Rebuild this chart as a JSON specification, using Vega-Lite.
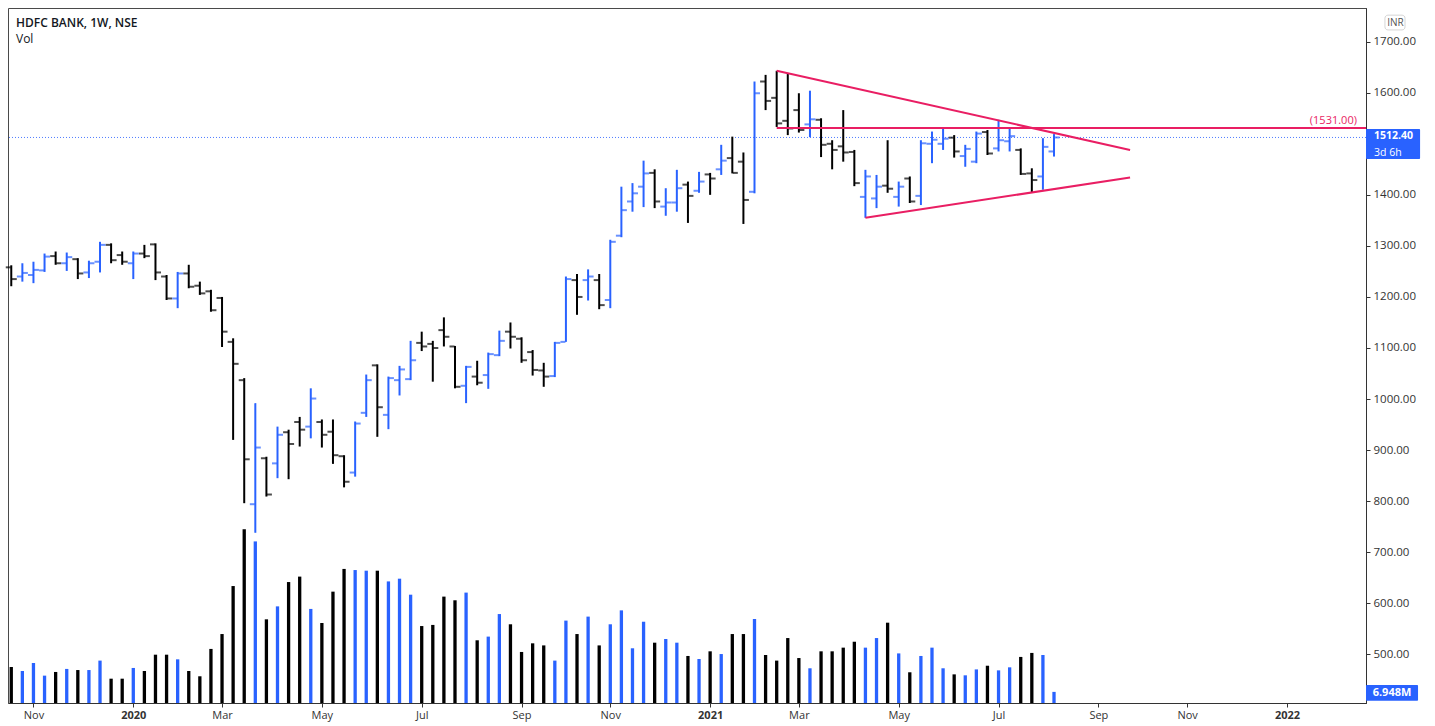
{
  "$schema": "https://vega.github.io/schema/vega-lite/v6.json",
  "width": 1358,
  "height": 695,
  "autosize": {"type": "none"},
  "padding": {"left": 8, "top": 8, "right": 69, "bottom": 23},
  "background": "white",
  "config": {"view": {"stroke": "#4a4a4a", "strokeWidth": 1}, "font": "Open Sans"},
  "title": {"text": "HDFC BANK, 1W, NSE", "subtitle": "Vol", "anchor": "start", "frame": "group", "orient": "top", "offset": -38, "dx": 8, "fontSize": 12, "fontWeight": 600, "font": "Open Sans", "color": "#131722", "subtitleFontSize": 12, "subtitleColor": "#131722", "subtitleFont": "Open Sans", "subtitlePadding": 4},
  "datasets": {
    "bars": [
      {"date": "2019-10-21", "open": 1258, "high": 1262, "low": 1221, "close": 1235, "vol": 22.5},
      {"date": "2019-10-28", "open": 1240, "high": 1266, "low": 1230, "close": 1247, "vol": 20},
      {"date": "2019-11-04", "open": 1243, "high": 1269, "low": 1227, "close": 1253, "vol": 25},
      {"date": "2019-11-11", "open": 1252, "high": 1285, "low": 1249, "close": 1279, "vol": 17.1},
      {"date": "2019-11-18", "open": 1280, "high": 1289, "low": 1263, "close": 1266, "vol": 19.4},
      {"date": "2019-11-25", "open": 1266, "high": 1287, "low": 1251, "close": 1278, "vol": 21.3},
      {"date": "2019-12-02", "open": 1274, "high": 1276, "low": 1235, "close": 1246, "vol": 20.6},
      {"date": "2019-12-09", "open": 1248, "high": 1271, "low": 1237, "close": 1266, "vol": 20.6},
      {"date": "2019-12-16", "open": 1269, "high": 1308, "low": 1248, "close": 1302, "vol": 26.5},
      {"date": "2019-12-23", "open": 1302, "high": 1305, "low": 1266, "close": 1272, "vol": 15.2},
      {"date": "2019-12-30", "open": 1282, "high": 1289, "low": 1263, "close": 1269, "vol": 15.2},
      {"date": "2020-01-06", "open": 1266, "high": 1289, "low": 1235, "close": 1285, "vol": 21.9},
      {"date": "2020-01-13", "open": 1285, "high": 1302, "low": 1276, "close": 1280, "vol": 20},
      {"date": "2020-01-20", "open": 1303, "high": 1305, "low": 1233, "close": 1248, "vol": 30.2},
      {"date": "2020-01-27", "open": 1240, "high": 1243, "low": 1194, "close": 1197, "vol": 30.2},
      {"date": "2020-02-03", "open": 1197, "high": 1249, "low": 1178, "close": 1246, "vol": 27.3},
      {"date": "2020-02-10", "open": 1246, "high": 1263, "low": 1217, "close": 1220, "vol": 20},
      {"date": "2020-02-17", "open": 1222, "high": 1230, "low": 1204, "close": 1207, "vol": 16.7},
      {"date": "2020-02-24", "open": 1211, "high": 1214, "low": 1171, "close": 1174, "vol": 33.8},
      {"date": "2020-03-02", "open": 1198, "high": 1200, "low": 1102, "close": 1132, "vol": 43.1},
      {"date": "2020-03-09", "open": 1112, "high": 1119, "low": 920, "close": 1069, "vol": 73.1},
      {"date": "2020-03-16", "open": 1037, "high": 1041, "low": 796, "close": 882, "vol": 108.6},
      {"date": "2020-03-23", "open": 794, "high": 992, "low": 738, "close": 905, "vol": 101},
      {"date": "2020-03-30", "open": 884, "high": 887, "low": 809, "close": 813, "vol": 52.3},
      {"date": "2020-04-06", "open": 874, "high": 946, "low": 845, "close": 930, "vol": 60.4},
      {"date": "2020-04-13", "open": 935, "high": 940, "low": 843, "close": 912, "vol": 75.6},
      {"date": "2020-04-20", "open": 955, "high": 965, "low": 907, "close": 940, "vol": 79},
      {"date": "2020-04-27", "open": 946, "high": 1021, "low": 923, "close": 1001, "vol": 58.8},
      {"date": "2020-05-04", "open": 955, "high": 960, "low": 905, "close": 930, "vol": 50},
      {"date": "2020-05-11", "open": 936, "high": 960, "low": 873, "close": 890, "vol": 69.6},
      {"date": "2020-05-18", "open": 888, "high": 890, "low": 827, "close": 838, "vol": 83.8},
      {"date": "2020-05-25", "open": 856, "high": 956, "low": 848, "close": 952, "vol": 83.1},
      {"date": "2020-06-01", "open": 973, "high": 1048, "low": 965, "close": 1037, "vol": 82.7},
      {"date": "2020-06-08", "open": 1066, "high": 1068, "low": 926, "close": 984, "vol": 82.7},
      {"date": "2020-06-15", "open": 969, "high": 1044, "low": 941, "close": 1041, "vol": 76},
      {"date": "2020-06-22", "open": 1037, "high": 1065, "low": 1007, "close": 1058, "vol": 77.7},
      {"date": "2020-06-29", "open": 1039, "high": 1114, "low": 1037, "close": 1076, "vol": 67.7},
      {"date": "2020-07-06", "open": 1110, "high": 1132, "low": 1094, "close": 1103, "vol": 48.1},
      {"date": "2020-07-13", "open": 1108, "high": 1114, "low": 1034, "close": 1100, "vol": 48.8},
      {"date": "2020-07-20", "open": 1135, "high": 1160, "low": 1103, "close": 1122, "vol": 66.5},
      {"date": "2020-07-27", "open": 1103, "high": 1104, "low": 1021, "close": 1024, "vol": 64.2},
      {"date": "2020-08-03", "open": 1026, "high": 1065, "low": 992, "close": 1063, "vol": 69},
      {"date": "2020-08-10", "open": 1044, "high": 1075, "low": 1027, "close": 1032, "vol": 39.2},
      {"date": "2020-08-17", "open": 1047, "high": 1091, "low": 1020, "close": 1088, "vol": 41.5},
      {"date": "2020-08-24", "open": 1086, "high": 1134, "low": 1084, "close": 1114, "vol": 55.6},
      {"date": "2020-08-31", "open": 1132, "high": 1150, "low": 1099, "close": 1122, "vol": 49.2},
      {"date": "2020-09-07", "open": 1118, "high": 1121, "low": 1071, "close": 1076, "vol": 31.9},
      {"date": "2020-09-14", "open": 1092, "high": 1096, "low": 1046, "close": 1057, "vol": 37.3},
      {"date": "2020-09-21", "open": 1056, "high": 1071, "low": 1024, "close": 1044, "vol": 36},
      {"date": "2020-09-28", "open": 1045, "high": 1112, "low": 1043, "close": 1110, "vol": 26.5},
      {"date": "2020-10-05", "open": 1112, "high": 1240, "low": 1112, "close": 1235, "vol": 51.5},
      {"date": "2020-10-12", "open": 1233, "high": 1245, "low": 1165, "close": 1200, "vol": 43.1},
      {"date": "2020-10-19", "open": 1233, "high": 1254, "low": 1193, "close": 1240, "vol": 54},
      {"date": "2020-10-26", "open": 1233, "high": 1245, "low": 1176, "close": 1184, "vol": 36},
      {"date": "2020-11-02", "open": 1194, "high": 1312, "low": 1178, "close": 1308, "vol": 49.2},
      {"date": "2020-11-09", "open": 1320, "high": 1416, "low": 1317, "close": 1370, "vol": 57.9},
      {"date": "2020-11-16", "open": 1387, "high": 1423, "low": 1367, "close": 1403, "vol": 34.2},
      {"date": "2020-11-23", "open": 1416, "high": 1467, "low": 1376, "close": 1442, "vol": 50.8},
      {"date": "2020-11-30", "open": 1443, "high": 1450, "low": 1374, "close": 1387, "vol": 37.7},
      {"date": "2020-12-07", "open": 1377, "high": 1413, "low": 1359, "close": 1385, "vol": 40},
      {"date": "2020-12-14", "open": 1385, "high": 1449, "low": 1367, "close": 1413, "vol": 37.7},
      {"date": "2020-12-21", "open": 1420, "high": 1426, "low": 1345, "close": 1398, "vol": 29.4},
      {"date": "2020-12-28", "open": 1408, "high": 1445, "low": 1404, "close": 1426, "vol": 27.5},
      {"date": "2021-01-04", "open": 1440, "high": 1443, "low": 1400, "close": 1432, "vol": 32.3},
      {"date": "2021-01-11", "open": 1450, "high": 1498, "low": 1439, "close": 1467, "vol": 30.6},
      {"date": "2021-01-18", "open": 1472, "high": 1514, "low": 1442, "close": 1443, "vol": 43.1},
      {"date": "2021-01-25", "open": 1465, "high": 1483, "low": 1343, "close": 1390, "vol": 43.1},
      {"date": "2021-02-01", "open": 1406, "high": 1622, "low": 1403, "close": 1599, "vol": 52.5},
      {"date": "2021-02-08", "open": 1622, "high": 1635, "low": 1566, "close": 1584, "vol": 30},
      {"date": "2021-02-15", "open": 1590, "high": 1643, "low": 1533, "close": 1540, "vol": 26.5},
      {"date": "2021-02-22", "open": 1545, "high": 1638, "low": 1517, "close": 1530, "vol": 40.6},
      {"date": "2021-03-01", "open": 1566, "high": 1599, "low": 1522, "close": 1527, "vol": 28.1},
      {"date": "2021-03-08", "open": 1538, "high": 1604, "low": 1513, "close": 1548, "vol": 21.7},
      {"date": "2021-03-15", "open": 1547, "high": 1550, "low": 1474, "close": 1498, "vol": 32.3},
      {"date": "2021-03-22", "open": 1500, "high": 1507, "low": 1450, "close": 1488, "vol": 32.3},
      {"date": "2021-03-29", "open": 1495, "high": 1566, "low": 1465, "close": 1483, "vol": 34.6},
      {"date": "2021-04-05", "open": 1484, "high": 1488, "low": 1417, "close": 1423, "vol": 38.3},
      {"date": "2021-04-12", "open": 1396, "high": 1449, "low": 1355, "close": 1436, "vol": 34.6},
      {"date": "2021-04-19", "open": 1393, "high": 1439, "low": 1374, "close": 1416, "vol": 40.6},
      {"date": "2021-04-26", "open": 1418, "high": 1507, "low": 1404, "close": 1412, "vol": 50.2},
      {"date": "2021-05-03", "open": 1396, "high": 1426, "low": 1377, "close": 1416, "vol": 31},
      {"date": "2021-05-10", "open": 1432, "high": 1436, "low": 1384, "close": 1387, "vol": 19.2},
      {"date": "2021-05-17", "open": 1398, "high": 1507, "low": 1380, "close": 1501, "vol": 29.4},
      {"date": "2021-05-24", "open": 1500, "high": 1524, "low": 1462, "close": 1508, "vol": 34.6},
      {"date": "2021-05-31", "open": 1500, "high": 1530, "low": 1488, "close": 1510, "vol": 21.7},
      {"date": "2021-06-07", "open": 1512, "high": 1517, "low": 1473, "close": 1485, "vol": 17.9},
      {"date": "2021-06-14", "open": 1476, "high": 1498, "low": 1455, "close": 1490, "vol": 17.3},
      {"date": "2021-06-21", "open": 1465, "high": 1524, "low": 1462, "close": 1520, "vol": 21},
      {"date": "2021-06-28", "open": 1523, "high": 1527, "low": 1478, "close": 1481, "vol": 23.3},
      {"date": "2021-07-05", "open": 1491, "high": 1547, "low": 1485, "close": 1507, "vol": 20.4},
      {"date": "2021-07-12", "open": 1505, "high": 1530, "low": 1485, "close": 1515, "vol": 22.3},
      {"date": "2021-07-19", "open": 1488, "high": 1491, "low": 1439, "close": 1441, "vol": 28.8},
      {"date": "2021-07-26", "open": 1442, "high": 1452, "low": 1405, "close": 1429, "vol": 31.3},
      {"date": "2021-08-02", "open": 1436, "high": 1511, "low": 1410, "close": 1494, "vol": 30},
      {"date": "2021-08-09", "open": 1485, "high": 1519, "low": 1475, "close": 1512.4, "vol": 6.948}
    ],
    "trend": [
      {"line": "upper", "date": "2021-02-15", "price": 1643},
      {"line": "upper", "date": "2021-09-26", "price": 1488},
      {"line": "lower", "date": "2021-04-12", "price": 1355},
      {"line": "lower", "date": "2021-09-26", "price": 1434},
      {"line": "level", "date": "2021-02-15", "price": 1531},
      {"line": "level", "date": "2022-02-21T21:00:00Z", "price": 1531}
    ]
  },
  "layer": [
    {
      "layer": [
        {
          "data": {"name": "bars"},
          "mark": {"type": "rule", "strokeWidth": 3.3},
          "encoding": {
            "x": {"field": "date", "type": "temporal", "scale": {"type": "utc", "domain": [{"year": 2019, "month": 10, "date": 18, "hours": 22, "minutes": 30, "utc": true}, {"year": 2022, "month": 2, "date": 21, "hours": 21, "utc": true}]}},
            "y": {"field": "vol", "type": "quantitative", "scale": {"domain": [0, 434.4], "nice": false, "zero": true},
              "axis": {"orient": "right", "offset": 0, "title": null, "labels": false, "ticks": false, "grid": false, "domain": true, "domainColor": "#4a4a4a", "domainWidth": 1}},
            "y2": {"datum": 0},
            "color": {"condition": {"test": "datum.close >= datum.open", "value": "#2962ff"}, "value": "#000000"}
          }
        },
        {
          "data": {"values": [{}]},
          "mark": {"type": "rect", "fill": "#2962ff", "cornerRadius": 1},
          "encoding": {
            "x": {"datum": {"year": 2022, "month": 2, "date": 21, "hours": 21, "utc": true}, "type": "temporal"},
            "x2": {"datum": {"year": 2022, "month": 3, "date": 26, "hours": 17, "utc": true}},
            "y": {"datum": 11.25},
            "y2": {"datum": 1.44}
          }
        },
        {
          "data": {"values": [{}]},
          "mark": {"type": "text", "text": "6.948M", "fill": "white", "fontSize": 11, "fontWeight": "bold", "align": "center", "baseline": "middle"},
          "encoding": {
            "x": {"datum": {"year": 2022, "month": 3, "date": 10, "hours": 7, "utc": true}, "type": "temporal"},
            "y": {"datum": 6.25}
          }
        }
      ]
    },
    {
      "layer": [
        {
          "data": {"values": [{}]},
          "mark": {"type": "rule", "stroke": "#4f7cff", "strokeWidth": 1, "strokeDash": [1, 2]},
          "encoding": {"y": {"datum": 1512.4}}
        },
        {
          "data": {"name": "bars"},
          "mark": {"type": "rule", "strokeWidth": 2},
          "encoding": {
            "x": {"field": "date", "type": "temporal", "scale": {"type": "utc", "domain": [{"year": 2019, "month": 10, "date": 18, "hours": 22, "minutes": 30, "utc": true}, {"year": 2022, "month": 2, "date": 21, "hours": 21, "utc": true}]},
              "axis": {"title": null, "grid": false, "tickSize": 4, "tickColor": "#333", "domainColor": "#333", "labelColor": "#333", "labelFontSize": 11, "labelPadding": 2, "labelFlush": false, "labelOverlap": false,
                "values": [
                  {"year": 2019, "month": 11, "date": 4, "utc": true},
                  {"year": 2020, "month": 1, "date": 6, "utc": true},
                  {"year": 2020, "month": 3, "date": 2, "utc": true},
                  {"year": 2020, "month": 5, "date": 4, "utc": true},
                  {"year": 2020, "month": 7, "date": 6, "utc": true},
                  {"year": 2020, "month": 9, "date": 7, "utc": true},
                  {"year": 2020, "month": 11, "date": 2, "utc": true},
                  {"year": 2021, "month": 1, "date": 4, "utc": true},
                  {"year": 2021, "month": 3, "date": 1, "utc": true},
                  {"year": 2021, "month": 5, "date": 3, "utc": true},
                  {"year": 2021, "month": 7, "date": 5, "utc": true},
                  {"year": 2021, "month": 9, "date": 6, "utc": true},
                  {"year": 2021, "month": 11, "date": 1, "utc": true},
                  {"year": 2022, "month": 1, "date": 3, "utc": true}
                ],
                "labelExpr": "utcmonth(datum.value) == 0 ? utcFormat(datum.value, '%Y') : utcFormat(datum.value, '%b')",
                "labelFontWeight": {"condition": {"test": "utcmonth(datum.value) == 0", "value": "bold"}, "value": "normal"}
              }
            },
            "y": {"field": "low", "type": "quantitative", "scale": {"domain": [404.6, 1766], "nice": false, "zero": false},
              "axis": {"orient": "right", "title": "INR", "titleAngle": 0, "titleX": 29, "titleY": 14, "titleAlign": "center", "titleBaseline": "middle", "titleFontSize": 10, "titleFontWeight": "normal", "titleColor": "#555", "values": [500, 600, 700, 800, 900, 1000, 1100, 1200, 1300, 1400, 1500, 1600, 1700], "format": ".2f", "grid": false, "tickSize": 4, "tickColor": "#333", "domainColor": "#333", "labelColor": "#333", "labelFontSize": 11.5, "labelPadding": 3}
            },
            "y2": {"field": "high"},
            "color": {"condition": {"test": "datum.close >= datum.open", "value": "#2962ff"}, "value": "#000000"}
          }
        },
        {
          "data": {"name": "bars"},
          "mark": {"type": "tick", "orient": "horizontal", "size": 5, "thickness": 2, "xOffset": -3},
          "encoding": {
            "x": {"field": "date", "type": "temporal"},
            "y": {"field": "open", "type": "quantitative"},
            "color": {"condition": {"test": "datum.close >= datum.open", "value": "#2962ff"}, "value": "#000000"}
          }
        },
        {
          "data": {"name": "bars"},
          "mark": {"type": "tick", "orient": "horizontal", "size": 5, "thickness": 2, "xOffset": 3},
          "encoding": {
            "x": {"field": "date", "type": "temporal"},
            "y": {"field": "close", "type": "quantitative"},
            "color": {"condition": {"test": "datum.close >= datum.open", "value": "#2962ff"}, "value": "#000000"}
          }
        },
        {
          "data": {"name": "trend"},
          "mark": {"type": "line", "stroke": "#e91e63", "strokeWidth": 2},
          "encoding": {
            "x": {"field": "date", "type": "temporal"},
            "y": {"field": "price", "type": "quantitative"},
            "detail": {"field": "line"}
          }
        },
        {
          "data": {"values": [{}]},
          "mark": {"type": "text", "text": "(1531.00)", "fill": "#e91e63", "fontSize": 11, "align": "right", "baseline": "bottom", "dy": -2},
          "encoding": {
            "x": {"datum": {"year": 2022, "month": 2, "date": 16, "hours": 4, "utc": true}, "type": "temporal"},
            "y": {"datum": 1531}
          }
        },
        {
          "data": {"values": [{}]},
          "mark": {"type": "rect", "fill": "#2962ff", "cornerRadius": 1},
          "encoding": {
            "x": {"datum": {"year": 2022, "month": 2, "date": 21, "hours": 21, "utc": true}, "type": "temporal"},
            "x2": {"datum": {"year": 2022, "month": 3, "date": 28, "utc": true}},
            "y": {"datum": 1529},
            "y2": {"datum": 1470}
          }
        },
        {
          "data": {"values": [{}]},
          "mark": {"type": "text", "text": "1512.40", "fill": "white", "fontSize": 10.5, "fontWeight": "bold", "align": "left", "baseline": "middle"},
          "encoding": {
            "x": {"datum": {"year": 2022, "month": 2, "date": 26, "hours": 22, "utc": true}, "type": "temporal"},
            "y": {"datum": 1516}
          }
        },
        {
          "data": {"values": [{}]},
          "mark": {"type": "text", "text": "3d 6h", "fill": "white", "fontSize": 10.5, "align": "left", "baseline": "middle"},
          "encoding": {
            "x": {"datum": {"year": 2022, "month": 2, "date": 26, "hours": 22, "utc": true}, "type": "temporal"},
            "y": {"datum": 1482}
          }
        },
        {
          "data": {"values": [{}]},
          "mark": {"type": "rect", "fill": "transparent", "stroke": "#d6d6d6", "strokeWidth": 1, "cornerRadius": 3},
          "encoding": {
            "x": {"datum": {"year": 2022, "month": 3, "date": 5, "hours": 20, "utc": true}, "type": "temporal"},
            "x2": {"datum": {"year": 2022, "month": 3, "date": 18, "hours": 12, "utc": true}},
            "y": {"datum": 1752},
            "y2": {"datum": 1723}
          }
        }
      ]
    }
  ],
  "resolve": {"scale": {"y": "independent"}}
}
